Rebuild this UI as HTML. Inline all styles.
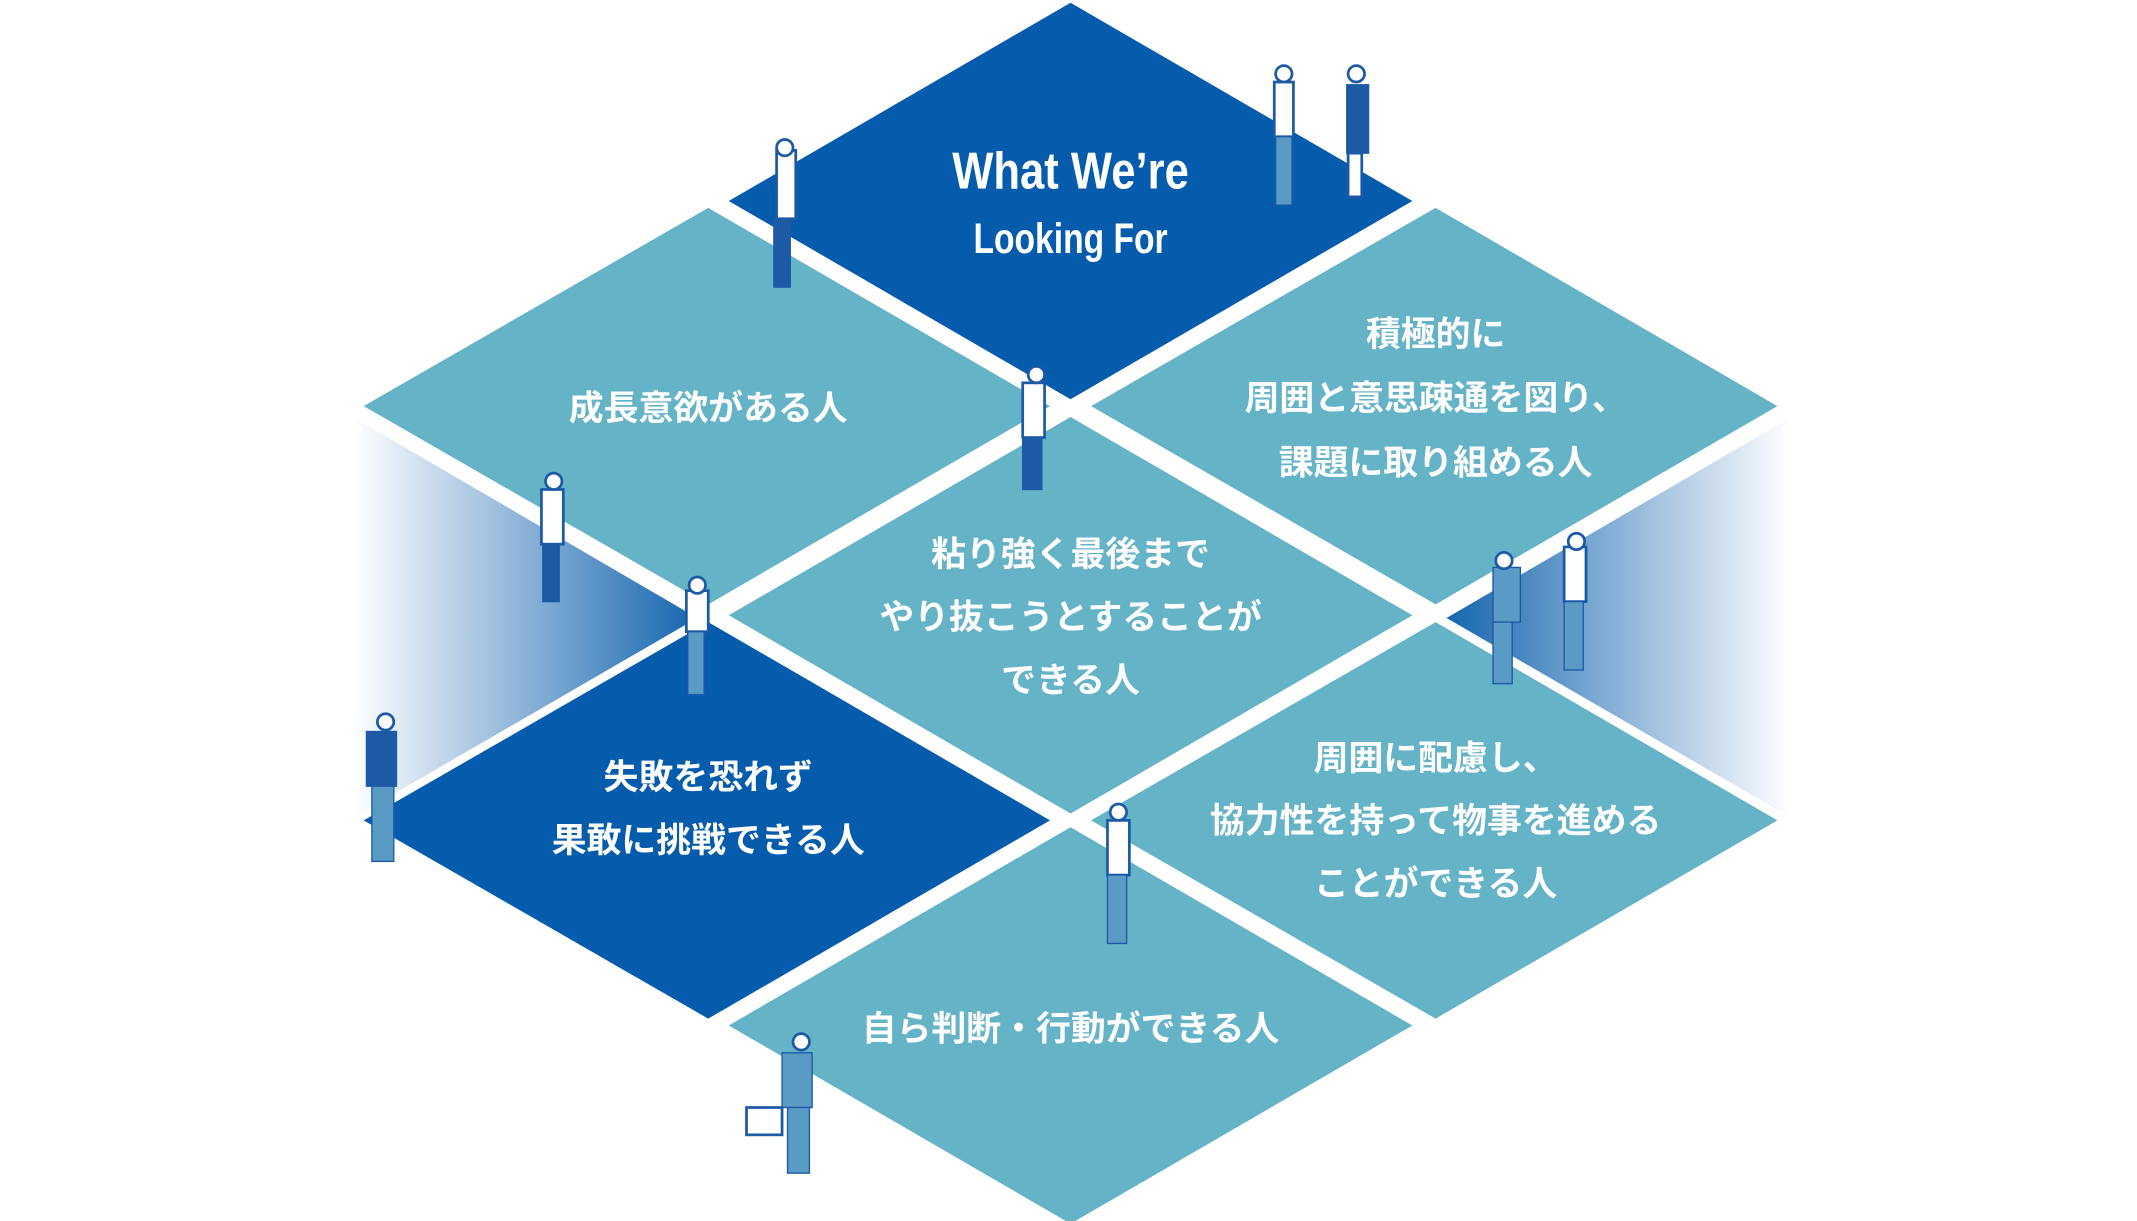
<!DOCTYPE html>
<html><head><meta charset="utf-8"><style>
html,body{margin:0;padding:0;background:#fff;}
svg{display:block;}
text{font-family:"Liberation Sans","Noto Sans CJK JP",sans-serif;font-weight:bold;fill:#fff;text-anchor:middle;}
</style></head><body>
<svg width="2137" height="1221" viewBox="0 0 1563 893" preserveAspectRatio="none">
<defs>
<linearGradient id="gl" x1="0" x2="1" y1="0" y2="0"><stop offset="0" stop-color="#0a5eab" stop-opacity="0"/><stop offset="1" stop-color="#0a5eab" stop-opacity="0.95"/></linearGradient>
<linearGradient id="gr" x1="1" x2="0" y1="0" y2="0"><stop offset="0" stop-color="#0a5eab" stop-opacity="0"/><stop offset="1" stop-color="#0a5eab" stop-opacity="0.95"/></linearGradient>
</defs>
<polygon points="258,305 510,452 258,598" fill="url(#gl)"/>
<polygon points="1310,305 1058,452 1310,598" fill="url(#gr)"/>
<g>
<polygon points="783,2 1033,147 783,292 533,147" fill="#055cac"/>
<polygon points="518,152 768,297 518,442 266,297" fill="#64b3c7"/>
<polygon points="1050,152 1300,297 1050,442 798,297" fill="#64b3c7"/>
<polygon points="783,305 1033,450 783,595 533,450" fill="#64b3c7"/>
<polygon points="518,455 768,600 518,745 266,600" fill="#055cac"/>
<polygon points="1050,455 1300,600 1050,745 798,600" fill="#64b3c7"/>
<polygon points="783,605 1033,750 783,895 533,750" fill="#64b3c7"/>
</g>
<text x="783" y="138" font-size="38" textLength="173" lengthAdjust="spacingAndGlyphs">What We’re</text>
<text x="783" y="185" font-size="31" textLength="142" lengthAdjust="spacingAndGlyphs">Looking For</text>
<g font-size="25.5">
<text x="518" y="307">成長意欲がある人</text>
<text x="1050" y="253">積極的に</text>
<text x="1050" y="300">周囲と意思疎通を図り、</text>
<text x="1050" y="347">課題に取り組める人</text>
<text x="783" y="414">粘り強く最後まで</text>
<text x="783" y="460">やり抜こうとすることが</text>
<text x="783" y="506">できる人</text>
<text x="518" y="577">失敗を恐れず</text>
<text x="518" y="623">果敢に挑戦できる人</text>
<text x="1050" y="563">周囲に配慮し、</text>
<text x="1050" y="609">協力性を持って物事を進める</text>
<text x="1050" y="655">ことができる人</text>
<text x="783" y="761">自ら判断・行動ができる人</text>
</g>
<g fill="#1d5aa6" stroke="#1d5aa6">
<rect x="568" y="110" width="14" height="50" fill="#fff" stroke-width="2"/><circle cx="574" cy="108" r="6" fill="#fff" stroke-width="2"/><rect x="566" y="160" width="12" height="50" stroke-width="1"/>
<rect x="932" y="60" width="14" height="40" fill="#fff" stroke-width="2"/><circle cx="939" cy="54" r="6" fill="#fff" stroke-width="2"/><rect x="933" y="100" width="12" height="50" fill="#5a9bc6" stroke-width="1"/>
<rect x="985" y="62" width="16" height="50" stroke-width="1"/><circle cx="992" cy="54" r="6" fill="#fff" stroke-width="2"/><rect x="986" y="112" width="10" height="32" fill="#fff" stroke-width="2"/>
<rect x="748" y="280" width="16" height="40" fill="#fff" stroke-width="2"/><circle cx="758" cy="274" r="6" fill="#fff" stroke-width="2"/><rect x="748" y="320" width="14" height="38" stroke-width="1"/>
<rect x="396" y="358" width="16" height="40" fill="#fff" stroke-width="2"/><circle cx="405" cy="352" r="6" fill="#fff" stroke-width="2"/><rect x="397" y="398" width="12" height="42" stroke-width="1"/>
<rect x="502" y="432" width="16" height="30" fill="#fff" stroke-width="2"/><circle cx="510" cy="428" r="6" fill="#fff" stroke-width="2"/><rect x="503" y="462" width="12" height="46" fill="#5a9bc6" stroke-width="1"/>
<rect x="268" y="535" width="22" height="40" stroke-width="1"/><circle cx="282" cy="528" r="6" fill="#fff" stroke-width="2"/><rect x="272" y="575" width="16" height="55" fill="#5a9bc6" stroke-width="1"/>
<rect x="1092" y="415" width="20" height="40" fill="#5a9bc6" stroke-width="1"/><circle cx="1100" cy="410" r="6" fill="#fff" stroke-width="2"/><rect x="1092" y="455" width="14" height="45" fill="#5a9bc6" stroke-width="1"/>
<rect x="1144" y="400" width="16" height="40" fill="#fff" stroke-width="2"/><circle cx="1153" cy="396" r="6" fill="#fff" stroke-width="2"/><rect x="1144" y="440" width="14" height="50" fill="#5a9bc6" stroke-width="1"/>
<rect x="810" y="600" width="16" height="40" fill="#fff" stroke-width="2"/><circle cx="818" cy="594" r="6" fill="#fff" stroke-width="2"/><rect x="810" y="640" width="14" height="50" fill="#5a9bc6" stroke-width="1"/>
<rect x="572" y="770" width="22" height="40" fill="#5a9bc6" stroke-width="1"/><circle cx="586" cy="762" r="6" fill="#fff" stroke-width="2"/><rect x="576" y="810" width="16" height="48" fill="#5a9bc6" stroke-width="1"/><rect x="546" y="810" width="26" height="20" fill="#fff" stroke-width="2"/>
</g>
</svg>
</body></html>
